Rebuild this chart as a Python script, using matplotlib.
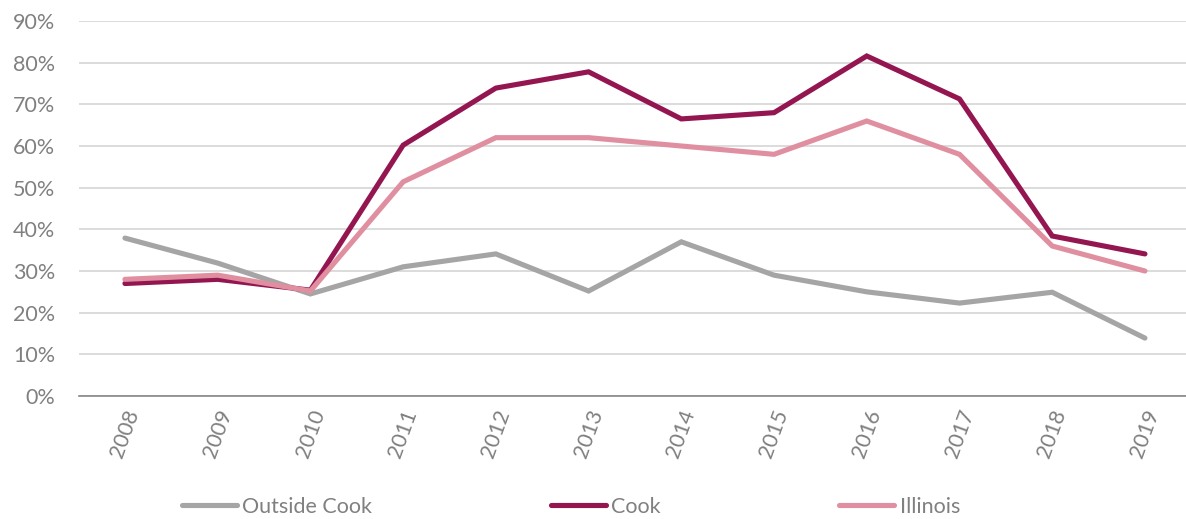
import matplotlib
matplotlib.use("Agg")
import matplotlib.pyplot as plt
from matplotlib.ticker import FuncFormatter

years = ["2008", "2009", "2010", "2011", "2012", "2013", "2014", "2015", "2016", "2017", "2018", "2019"]
outside_cook = [0.379, 0.319, 0.245, 0.31, 0.341, 0.252, 0.37, 0.29, 0.25, 0.223, 0.249, 0.139]
cook = [0.27, 0.28, 0.254, 0.602, 0.739, 0.778, 0.665, 0.68, 0.816, 0.713, 0.384, 0.341]
illinois = [0.28, 0.29, 0.252, 0.514, 0.62, 0.62, 0.60, 0.58, 0.66, 0.58, 0.36, 0.30]

series = [("Outside Cook", outside_cook, "#A5A5A5"),
          ("Cook", cook, "#941651"),
          ("Illinois", illinois, "#E08FA0")]

plt.rcParams['font.family'] = ['Lato', 'DejaVu Sans']
W, H = 1186, 519
fig = plt.figure(figsize=(W / 100, H / 100), dpi=100)
ax = fig.add_axes([78.6 / W, (H - 396) / H, 1112.7 / W, (396 - 21) / H])

x = list(range(len(years)))
for name, vals, col in series:
    ax.plot(x, vals, color=col, lw=3.7, label=name, solid_capstyle='round', solid_joinstyle='miter')

ax.set_xlim(-0.5, len(years) - 0.5)
ax.set_ylim(0, 0.9)
ax.set_yticks([i / 10 for i in range(10)])
ax.yaxis.set_major_formatter(FuncFormatter(lambda v, p: f"{v*100:.0f}%"))
ax.set_xticks(x)
ax.set_xticklabels(years, rotation=70, ha='center', va='top')
ax.tick_params(axis='both', length=0, colors='#808080', labelsize=15.5)
ax.tick_params(axis='y', pad=17)
ax.tick_params(axis='x', pad=8)
ax.grid(axis='y', color='#D9D9D9', lw=1.3)
ax.set_axisbelow(True)
for s in ['top', 'right', 'left']:
    ax.spines[s].set_visible(False)
ax.spines['bottom'].set_color('#868686')
ax.spines['bottom'].set_linewidth(1.2)
ax.spines['bottom'].set_zorder(1.5)

leg = fig.legend(loc='center', bbox_to_anchor=(571 / W, 1 - 507 / H), ncol=3, frameon=False,
                 fontsize=15.5, handlelength=2.55, handletextpad=0.25, columnspacing=8.3)
for t in leg.get_texts():
    t.set_color('#808080')

fig.savefig("out.png", dpi=100)
